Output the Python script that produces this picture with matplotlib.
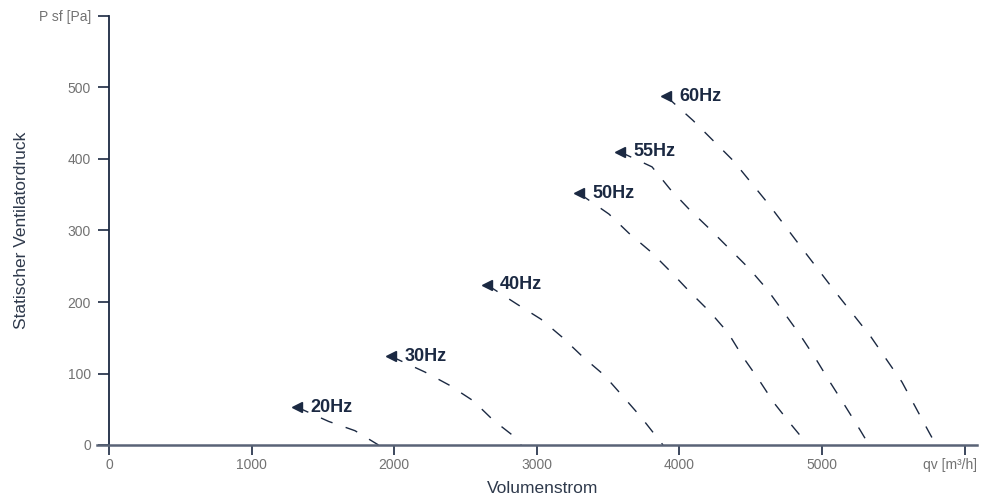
import matplotlib
matplotlib.use("Agg")
import matplotlib.pyplot as plt
from matplotlib.lines import Line2D
from matplotlib.transforms import ScaledTranslation

plt.rcParams["font.family"] = ["Liberation Sans", "DejaVu Sans"]
plt.rcParams["lines.scale_dashes"] = False

# ── colours ──────────────────────────────────────────────────────────────────
NAVY = "#1b2942"       # curves, labels, y spine, ticks
AXIS_GREY = "#596376"  # x axis line
TICK_GREY = "#727272"  # tick labels
LABEL_COL = "#2f3a4c"  # axis titles

# ── data ─────────────────────────────────────────────────────────────────────
q_20 = [1318, 1540, 1725, 1890]
p_20 = [53, 33, 20, 0]

q_30 = [1978, 2216, 2384, 2553, 2693, 2847, 2890]
p_30 = [124, 102, 84, 62, 35, 11, 0]

q_40 = [2651, 2861, 3029, 3177, 3324, 3471, 3604, 3731, 3885]
p_40 = [224, 197, 176, 151, 123, 98, 68, 39, 0]

q_50 = [3296, 3506, 3647, 3801, 3941, 4074, 4215, 4341, 4446, 4558, 4663, 4790, 4902]
p_50 = [352, 323, 296, 270, 242, 214, 186, 157, 123, 91, 59, 27, 0]

q_55 = [3583, 3808, 3934, 4067, 4208, 4348, 4488, 4614, 4734, 4846, 4958, 5056, 5161, 5267, 5330]
p_55 = [410, 389, 358, 330, 303, 275, 247, 218, 185, 154, 120, 88, 55, 21, 0]

q_60 = [3906, 4095, 4376, 4621, 4860, 5098, 5344, 5561, 5750, 5800]
p_60 = [488, 454, 398, 338, 275, 213, 151, 88, 18, 0]

curve_labels = ["20Hz", "30Hz", "40Hz", "50Hz", "55Hz", "60Hz"]
curve_q = [q_20, q_30, q_40, q_50, q_55, q_60]
curve_p = [p_20, p_30, p_40, p_50, p_55, p_60]

x_ticks = [0, 1000, 2000, 3000, 4000, 5000, 6000]
x_tick_labels = ["0", "1000", "2000", "3000", "4000", "5000", ""]
x_unit = "qv [m³/h]"
y_ticks = [0, 100, 200, 300, 400, 500, 600]
y_tick_labels = ["0", "100", "200", "300", "400", "500", "P sf [Pa]"]

# ── figure ───────────────────────────────────────────────────────────────────
fig = plt.figure(figsize=(9.81, 4.99), dpi=100)
ax = fig.add_axes([109 / 981, 54 / 499, 868 / 981, 429 / 499])
ax.set_xlim(0, 6087)
ax.set_ylim(0, 600)

for label, q, p in zip(curve_labels, curve_q, curve_p):
    ax.plot(q, p, color=NAVY, lw=1.0, linestyle=(0, (9, 10)), zorder=3)
    ax.plot(q[0], p[0], marker="<", ms=6.5, color=NAVY, zorder=4, clip_on=False)
    ax.annotate(label, (q[0], p[0]), xytext=(9.5, 0), textcoords="offset points",
                ha="left", va="center", fontsize=13, fontweight="bold", color=NAVY)

# ── axes styling ─────────────────────────────────────────────────────────────
for side in ("top", "right", "bottom"):
    ax.spines[side].set_visible(False)
ax.spines["left"].set_color(NAVY)
ax.spines["left"].set_linewidth(1.3)

ax.add_line(Line2D([-12 / 868, 1], [0, 0], transform=ax.transAxes,
                   color=AXIS_GREY, lw=1.8, clip_on=False, zorder=5))

ax.set_xticks(x_ticks)
ax.set_xticklabels(x_tick_labels)
ax.set_yticks(y_ticks)
ax.set_yticklabels(y_tick_labels)
ax.tick_params(axis="x", direction="out", length=7.5, width=1.2, color=NAVY,
               labelcolor=TICK_GREY, labelsize=10, pad=2)
ax.tick_params(axis="y", direction="out", length=8, width=1.2, color=NAVY,
               labelcolor=TICK_GREY, labelsize=10, pad=5)

ax.text(1.0, 0, x_unit, ha="right", va="top", fontsize=10, color=TICK_GREY,
        transform=ax.transAxes + ScaledTranslation(0, -9.5 / 72, fig.dpi_scale_trans))

ax.set_xlabel("Volumenstrom", fontsize=12.5, color=LABEL_COL, labelpad=6)
ax.set_ylabel("Statischer Ventilatordruck", fontsize=12.5, color=LABEL_COL, labelpad=7)

fig.savefig("out.png", dpi=100)
